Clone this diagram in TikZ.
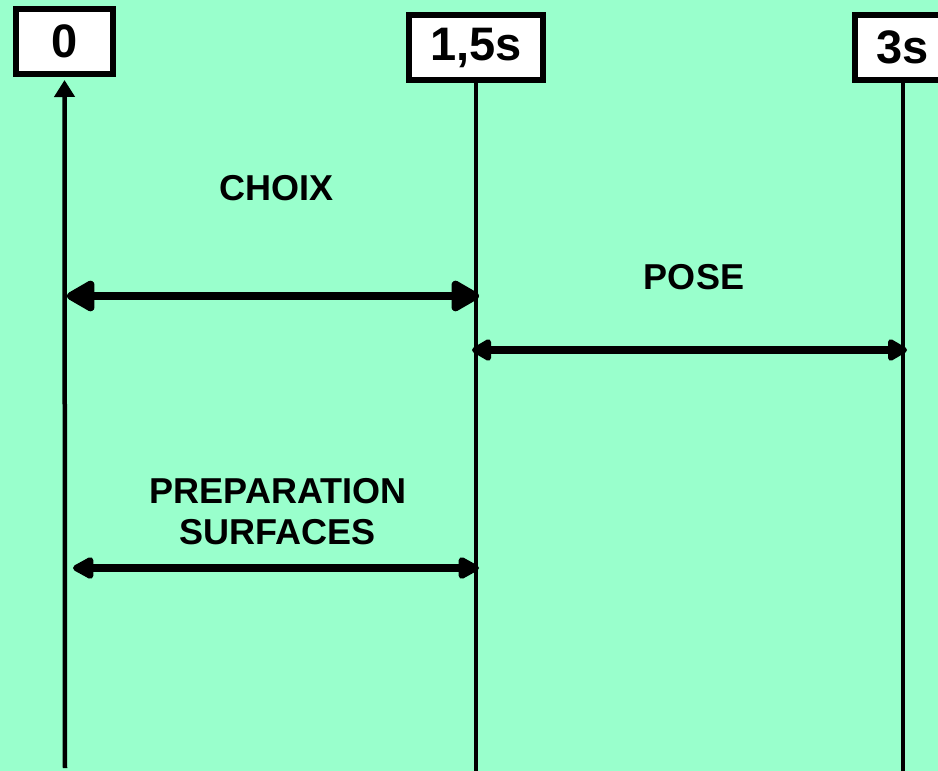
\documentclass[tikz,border=0pt]{standalone}
\usepackage{fontspec}
\setmainfont{Liberation Sans}
\usetikzlibrary{arrows.meta}
\definecolor{mint}{HTML}{99FFCC}

\begin{document}
\begin{tikzpicture}[x=1pt, y=-1pt,
    timebox/.style={draw, line width=6pt, fill=white, inner sep=0pt,
        minimum width=97pt, minimum height=65pt,
        font=\fontsize{47}{50}\selectfont\bfseries},
    phase/.style={font=\fontsize{36}{41}\selectfont\bfseries, align=center},
    timeline/.style={line width=4.5pt},
    span/.style={line width=8pt}]
    \fill[mint] (0,0) rectangle (938,771);
    \clip (0,0) rectangle (938,771);

    % time marks
    \node[timebox] (t0) at (64.5,41.5) {0};
    \node[timebox, minimum width=134pt] (t1) at (476,47.5) {1,5s};
    \node[timebox] (t2) at (903,47.5) {3s};
    \coordinate (b0) at (65,768);
    \coordinate (b1) at (476,771);
    \coordinate (b2) at (903,771);
    \draw[timeline, -{Triangle[length=17pt, width=20pt]}, shorten >=3pt] (b0) -- (t0);
    \draw[timeline] (t1) -- (b1);
    \draw[timeline] (t2) -- (b2);

    % durations
    \coordinate (choixA) at (67,296);
    \coordinate (choixB) at (479,296);
    \coordinate (poseA) at (472,350);
    \coordinate (poseB) at (907,350);
    \coordinate (prepA) at (73,568);
    \coordinate (prepB) at (479,568);
    \draw[span, {Triangle[round, length=32pt, width=34pt]}-{Triangle[round, length=32pt, width=34pt]}] (choixA) -- (choixB);
    \draw[span, {Triangle[round, length=22pt, width=24pt]}-{Triangle[round, length=22pt, width=24pt]}] (poseA) -- (poseB);
    \draw[span, {Triangle[round, length=24pt, width=24pt]}-{Triangle[round, length=24pt, width=24pt]}] (prepA) -- (prepB);

    \node[phase] (choix) at (277,188) {CHOIX};
    \node[phase] (pose) at (694,277) {POSE};
    \node[phase] (prep) at (278,512) {PREPARATION\\SURFACES};
\end{tikzpicture}
\end{document}
